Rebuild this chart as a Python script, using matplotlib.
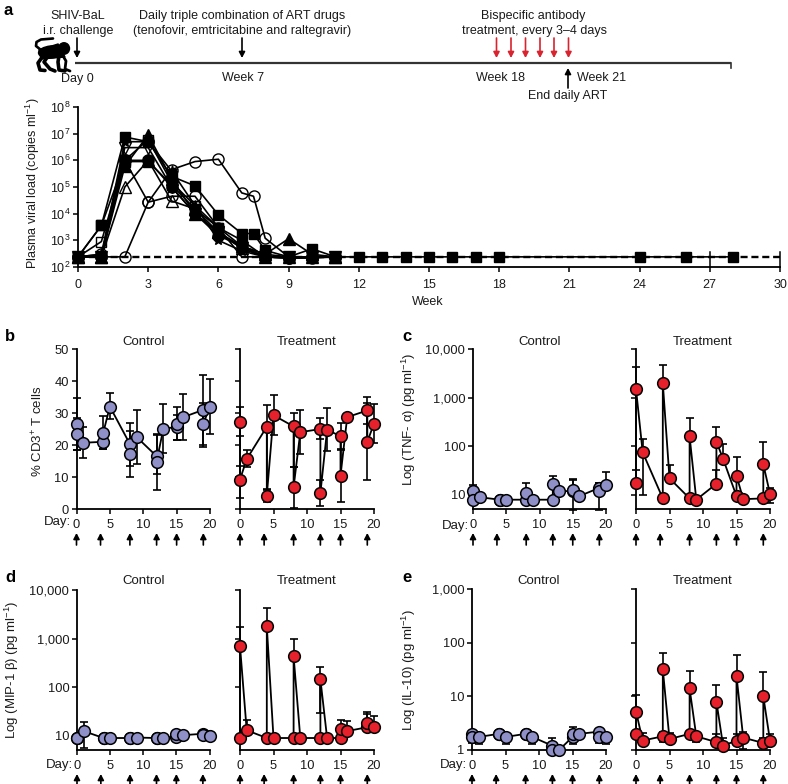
import numpy as np
import matplotlib
matplotlib.use('Agg')
import matplotlib.pyplot as plt
from matplotlib.patches import Ellipse, Polygon

plt.rcParams['font.family'] = ['Liberation Sans', 'DejaVu Sans']
plt.rcParams['mathtext.fontset'] = 'custom'
plt.rcParams['mathtext.rm'] = 'Liberation Sans'
plt.rcParams['mathtext.it'] = 'Liberation Sans:italic'
plt.rcParams['mathtext.default'] = 'regular'

W, H = 788, 784
TXT = '#1a1a1a'
BLUE = '#8F90C8'
RED = '#E6212B'

# ---------- panel a data ----------
LOD = 240
WEEKS = [0, 1, 2, 3, 4, 5, 6, 7, 8, 9, 10, 11]
a_sq1_w = [0, 1, 2, 3, 4, 5, 6, 7, 7.5, 8, 9, 10, 11, 12, 13, 14, 15, 16, 17, 18, 24, 26, 28]
a_sq1 = [240, 3600, 7500000, 5000000, 250000, 110000, 9000, 1800, 1800, 420, 240, 480, 240, 240, 240, 240, 240, 240, 240, 240, 240, 240, 240]
a_sq2 = [240, 3600, 900000, 900000, 120000, 15000, 3000, 1000, 240, 240, 240, 240]
a_tri = [240, 240, 600000, 9000000, 200000, 10000, 2000, 600, 300, 1150, 300, 240]
a_otri = [240, 240, 100000, 1000000, 30000, 15000, 2000, 500, 240, 240, 240, 240]
a_star = [240, 300, 5000000, 5000000, 400000, 20000, 1000, 400, 240, 240, 240, 240]
a_osq = [240, 900, 1000000, 6000000, 150000, 20000, 3000, 600, 300, 240, 240, 240]
a_hex_w = [0, 1, 2, 3, 4, 5, 6, 7, 7.5, 8, 9, 10, 11]
a_hex = [240, 240, 240, 27000, 450000, 900000, 1100000, 60000, 45000, 1200, 240, 240, 240]
a_circ = [240, 300, 1000000, 27000, 45000, 45000, 3000, 240, 240, 215, 215, 240]
a_fcirc = [240, 240, 1000000, 1000000, 100000, 10000, 1500, 600, 240, 210, 240, 240]
a_vtri = [240, 240, 3000000, 3000000, 100000, 10000, 2000, 500, 240, 240, 240, 240]

a_xticks = [0, 3, 6, 9, 12, 15, 18, 21, 24, 27, 30]
a_yexp = [2, 3, 4, 5, 6, 7, 8]

# ---------- panels b-e data ----------
DAYS = [0, 0, 1, 4, 4, 5, 8, 8, 9, 12, 12, 13, 15, 15, 16, 19, 19, 20]
DOSE_DAYS = [0, 3.6, 8, 12, 15, 19]
DAY_TICKS = [0, 5, 10, 15, 20]

b_c = [26.5, 23.3, 20.7, 21, 23.8, 32, 20.3, 17.3, 22.5, 16.5, 14.8, 25, 25.7, 26.7, 28.7, 31, 26.7, 32]
b_c_hi = [34.7, 28.5, 25.7, 23, 29.2, 36.3, 27, 24.5, 31, 23.5, 23, 32.8, 29.5, 32, 36, 42, 33, 40.7]
b_c_lo = [18.5, 18.5, 16, 18.8, 18.8, 28, 13.5, 10, 14.2, 11, 6, 17.5, 21.5, 21.5, 21.5, 20, 19.5, 23.5]
b_t = [27.3, 9.2, 15.6, 25.7, 4.2, 29.3, 25.8, 6.8, 24, 25, 5, 24.7, 22.8, 10.4, 28.7, 30.8, 21, 26.7]
b_t_hi = [31.8, 13.5, 18.5, 32.5, 6.2, 35.5, 30, 13, 30.8, 28.4, 9, 31.7, 27, 18.5, 28.7, 35, 33, 32.8]
b_t_lo = [22.7, 3.5, 13, 6, 2.2, 23, 13, 0.3, 17.3, 22, 1, 18, 18.7, 2.3, 28.7, 26.7, 9, 20.5]

c_c = [12, 8, 9, 8, 8, 8, 8, 11, 8, 8, 16.5, 12, 12, 12.5, 9.5, 14, 12, 16]
c_c_hi = [16, 8, 9, 8, 8, 8, 8, 18, 8, 8, 24, 12, 21, 20, 9.5, 18, 18, 30]
c_c_lo = [12, 8, 9, 8, 8, 8, 8, 11, 8, 8, 16.5, 12, 5, 12.5, 8, 14, 5, 16]
c_t = [18, 1500, 75, 8.5, 2000, 22, 8.5, 160, 8, 17, 125, 55, 9.5, 25, 8.2, 8.5, 43, 10.5]
c_t_hi = [32, 4200, 140, 8.5, 4800, 42, 8.5, 380, 8, 32, 250, 110, 9.5, 60, 8.2, 8.5, 120, 14]
c_t_lo = [18, 1500, 10, 8.5, 2000, 22, 8.5, 160, 8, 17, 125, 55, 9.5, 25, 8.2, 8.5, 43, 7]

d_c = [9, 9, 12.5, 9, 9, 9, 9, 9, 9.2, 9, 9, 9.2, 9.5, 11, 10.3, 11, 10.5, 9.7]
d_c_hi = [9, 9, 19, 9, 9, 9, 9, 9, 9.2, 9, 9, 9.2, 9.5, 12, 10.3, 12, 10.5, 9.7]
d_c_lo = [9, 9, 5.5, 9, 9, 9, 9, 9, 9.2, 9, 9, 9.2, 9.5, 11, 10.3, 11, 8.8, 9.7]
d_t = [9, 700, 13, 9, 1800, 9, 9, 430, 9, 9, 145, 9, 9, 14, 12.5, 15, 18, 15]
d_t_hi = [9, 1750, 21, 9, 4200, 9, 9, 1000, 9, 9, 260, 9, 9, 21, 20, 28, 31, 26]
d_t_lo = [9, 700, 13, 9, 1800, 9, 9, 430, 9, 9, 30, 9, 9, 14, 12.5, 15, 18, 15]

e_c = [2.0, 1.75, 1.75, 2, 2, 1.75, 2, 2, 1.75, 1.2, 1.0, 1.0, 1.75, 2, 2, 2.2, 1.75, 1.75]
e_c_hi = [2.0, 2.0, 2.0, 2, 2.05, 2.0, 2, 2.1, 2.1, 1.7, 1.0, 1.0, 2.4, 2.65, 2, 2.2, 2.1, 2.1]
e_c_lo = [2.0, 1.35, 1.3, 2, 2, 1.3, 2, 2, 1.3, 1.2, 1.0, 1.0, 1.3, 2, 2, 2.2, 1.35, 1.3]
e_t = [2.0, 5.2, 1.5, 1.8, 32, 1.6, 2, 14, 1.8, 1.4, 8, 1.2, 1.5, 24, 1.7, 1.35, 10, 1.5]
e_t_hi = [2.0, 10.5, 2.1, 2.2, 65, 2.1, 2, 30, 2.2, 2.0, 16, 1.7, 2.0, 60, 2.2, 1.7, 28, 2.0]
e_t_lo = [2.0, 5.2, 1.5, 1.4, 32, 1.6, 2, 14, 1.4, 1.4, 8, 1.2, 1.5, 24, 1.05, 1.35, 10, 1.5]

fig = plt.figure(figsize=(W / 100, H / 100), dpi=100)


def px_axes(x0, x1, ytop, ybot):
    return fig.add_axes([x0 / W, 1 - ybot / H, (x1 - x0) / W, (ybot - ytop) / H])


ov = fig.add_axes([0, 0, 1, 1], zorder=10)
ov.set_xlim(0, W)
ov.set_ylim(H, 0)
ov.axis('off')
ov.patch.set_alpha(0)


def put(x, y, s, **kw):
    kw.setdefault('fontsize', 9)
    kw.setdefault('color', TXT)
    kw.setdefault('ha', 'center')
    kw.setdefault('va', 'center')
    ov.text(x, y, s, **kw)


def arrow(x0, y0, x1, y1, color='black', lw=1.2):
    ov.annotate('', xy=(x1, y1), xytext=(x0, y0),
                arrowprops=dict(arrowstyle='-|>,head_width=0.2,head_length=0.38', color=color,
                                lw=lw, shrinkA=0, shrinkB=0, mutation_scale=9))


# ---------- panel a timeline ----------
put(8, 10, 'a', fontsize=12, fontweight='bold', color='black')
put(78, 15.5, 'SHIV-BaL')
put(78, 31, 'i.r. challenge')
put(242, 15.5, 'Daily triple combination of ART drugs')
put(242, 31, '(tenofovir, emtricitabine and raltegravir)')
put(533, 15.5, 'Bispecific antibody')
put(535, 31, 'treatment, every 3\u20134 days')
put(77, 79, 'Day 0')
put(243, 78, 'Week 7')
put(501, 78, 'Week 18')
put(602, 78, 'Week 21')
put(568, 96, 'End daily ART')
ov.plot([75, 731], [62.5, 62.5], color='#333333', lw=1.6, solid_capstyle='butt')
ov.plot([731, 731], [62.5, 68], color='#333333', lw=1.2)
arrow(77, 38, 77, 58)
arrow(242, 38, 242, 58)
for x in [496.5, 511, 525.5, 540, 554, 568.5]:
    arrow(x, 38, x, 58, color='#D9232E')
arrow(568, 88, 568, 68)

# monkey icon
ov.add_patch(Ellipse((51, 52), 25, 12, angle=-5, color='black'))
ov.add_patch(Ellipse((64, 48.5), 11, 11.5, color='black'))
ov.add_patch(Polygon([(39, 50), (58, 44), (65, 57), (41, 59)], color='black'))
for xs, ys, lw in [
    ([41, 36, 36.5, 41, 53], [50, 46, 42, 39.5, 38.5], 1.9),
    ([43, 38, 40, 45], [56, 63, 70, 70.5], 2.6),
    ([48, 44, 50, 55], [56, 62, 69, 71], 2.6),
    ([59, 58, 59, 65], [56, 62, 70, 71], 2.6),
    ([63, 66, 65, 70], [56, 61, 69, 71], 2.0),
]:
    ov.plot(xs, ys, color='black', lw=lw, solid_capstyle='round', solid_joinstyle='round')

# ---------- panel a plot ----------
ax = px_axes(78, 780, 107, 267)
ax.set_yscale('log')
ax.set_xlim(0, 30)
ax.set_ylim(1e2, 1e8)
for s in ['top', 'right']:
    ax.spines[s].set_visible(False)
for s in ['left', 'bottom']:
    ax.spines[s].set_linewidth(1.3)
ax.set_xticks(a_xticks)
ax.set_yticks([10.0 ** e for e in a_yexp])
ax.set_yticklabels(['$10^{%d}$' % e for e in a_yexp], fontsize=9, color=TXT)
ax.minorticks_off()
ax.tick_params(axis='x', length=3.5, width=1.1, labelsize=9, labelcolor=TXT, pad=5)
ax.tick_params(axis='y', length=3.5, width=1.1, pad=2)
for t in [27, 30]:
    ax.plot([t, t], [1e2, 10 ** 2.55], color='black', lw=1.1, clip_on=False)
ax.plot([0, 30], [LOD, LOD], color='black', lw=1.7, ls=(0, (3, 1.6)), zorder=2)
series = [
    (a_hex_w, a_hex, 'o', 'none'),
    (WEEKS, a_circ, 'o', 'none'),
    (WEEKS, a_otri, '^', 'none'),
    (WEEKS, a_osq, 's', 'none'),
    (WEEKS, a_vtri, 'v', 'none'),
    (WEEKS, a_star, '*', 'black'),
    (WEEKS, a_fcirc, 'o', 'black'),
    (WEEKS, a_tri, '^', 'black'),
    (WEEKS, a_sq2, 's', 'black'),
    (a_sq1_w, a_sq1, 's', 'black'),
]
for wk, vals, m, fc in series:
    ax.plot(wk, vals, color='black', lw=1.2, marker=m, ms=8.0 if m != 's' else 7.2, mfc=fc,
            mec='black', mew=1.0, clip_on=False, zorder=3)
put(33, 183, 'Plasma viral load (copies ml$^{-1}$)', rotation=90)
put(428, 301.5, 'Week')


# ---------- small panels ----------
def small_panel(x0, x1, ytop, ybot, vals, hi, lo, color, yscale, ylim, yticks, ylabels, title, title_y):
    a = px_axes(x0, x1, ytop, ybot)
    if yscale == 'log':
        a.set_yscale('log')
    a.set_xlim(0, 20)
    a.set_ylim(*ylim)
    for s in ['top', 'right']:
        a.spines[s].set_visible(False)
    for s in ['left', 'bottom']:
        a.spines[s].set_linewidth(1.3)
    a.set_xticks(DAY_TICKS)
    a.set_yticks(yticks)
    a.minorticks_off()
    a.set_yticklabels(ylabels if ylabels else [''] * len(yticks), fontsize=9.3, color=TXT)
    a.tick_params(axis='x', length=3.5, width=1.1, labelsize=9.3, labelcolor=TXT, pad=3.5)
    a.tick_params(axis='y', length=3.5, width=1.1, pad=2)
    v, h, l = np.array(vals, float), np.array(hi, float), np.array(lo, float)
    a.errorbar(DAYS, v, yerr=[v - l, h - v], fmt='none', ecolor='black', elinewidth=1.2,
               capsize=2.6, capthick=1.2, zorder=2)
    a.plot(DAYS, v, color='black', lw=1.3, marker='o', ms=8.4, mfc=color, mec='black', mew=1.1, zorder=3)
    for ch in a.get_children():
        try:
            ch.set_clip_on(False)
        except Exception:
            pass
    a.patch.set_alpha(0)
    put((x0 + x1) / 2, title_y, title, fontsize=9.5)
    for d in DOSE_DAYS:
        x = x0 + (x1 - x0) * d / 20
        arrow(x, ybot + 36, x, ybot + 24)
    return a


LOG4_T = [10, 100, 1000, 10000]
LOG4_L = ['10', '100', '1,000', '10,000']
LOG3_T = [1, 10, 100, 1000]
LOG3_L = ['1', '10', '100', '1,000']

small_panel(76.5, 210, 349, 509, b_c, b_c_hi, b_c_lo, BLUE, 'lin', (0, 50), [0, 10, 20, 30, 40, 50],
            ['0', '10', '20', '30', '40', '50'], 'Control', 341.5)
small_panel(240, 374, 349, 509, b_t, b_t_hi, b_t_lo, RED, 'lin', (0, 50), [0, 10, 20, 30, 40, 50],
            None, 'Treatment', 341.5)
small_panel(473, 606, 349, 509, c_c, c_c_hi, c_c_lo, BLUE, 'log', (5.15, 10000), LOG4_T, LOG4_L, 'Control', 341.5)
small_panel(636, 770, 349, 509, c_t, c_t_hi, c_t_lo, RED, 'log', (5.15, 10000), LOG4_T, None, 'Treatment', 341.5)
small_panel(77, 209.5, 590, 750, d_c, d_c_hi, d_c_lo, BLUE, 'log', (5.1, 10000), LOG4_T, LOG4_L, 'Control', 581.5)
small_panel(240, 374, 590, 750, d_t, d_t_hi, d_t_lo, RED, 'log', (5.1, 10000), LOG4_T, None, 'Treatment', 581.5)
small_panel(472, 606, 589, 750, e_c, e_c_hi, e_c_lo, BLUE, 'log', (1, 1000), LOG3_T, LOG3_L, 'Control', 581.5)
small_panel(636, 770, 589, 750, e_t, e_t_hi, e_t_lo, RED, 'log', (1, 1000), LOG3_T, None, 'Treatment', 581.5)

for x, y, s in [(10, 336, 'b'), (407, 336, 'c'), (10, 577, 'd'), (407, 577, 'e')]:
    put(x, y, s, fontsize=12, fontweight='bold', color='black')
for x, y in [(57, 522), (455, 525.5), (59, 765), (453, 765)]:
    put(x, y, 'Day:', fontsize=9.5)
put(38, 431, '% CD3$^{+}$ T cells', rotation=90, fontsize=9.5)
put(409, 419, 'Log (TNF- $\\alpha$) (pg ml$^{-1}$)', rotation=90, fontsize=9.5)
put(12, 670, 'Log (MIP-1 $\\beta$) (pg ml$^{-1}$)', rotation=90, fontsize=9.5)
put(409, 670, 'Log (IL-10) (pg ml$^{-1}$)', rotation=90, fontsize=9.5)

fig.savefig('out.png', dpi=100)
